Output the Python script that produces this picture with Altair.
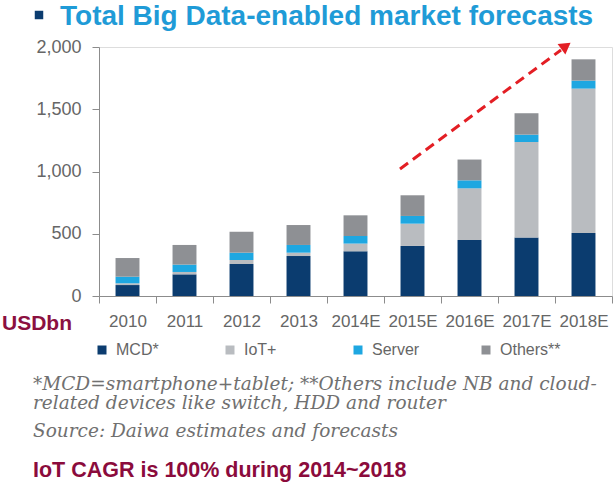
import altair as alt
import pandas as pd

years = ["2010", "2011", "2012", "2013", "2014E", "2015E", "2016E", "2017E", "2018E"]
series = ["MCD*", "IoT+", "Server", "Others**"]
mcd = [88, 174, 257, 321, 359, 402, 450, 469, 506]
iot = [14, 19, 32, 27, 62, 179, 415, 768, 1160]
server = [53, 59, 59, 62, 61, 62, 64, 59, 64]
others = [150, 158, 168, 160, 166, 166, 167, 172, 171]
colors = ["#0b3c6f", "#b9bcc0", "#1ea7e1", "#8e9094"]
y_ticks = [0, 500, 1000, 1500, 2000]

title_text = "Total Big Data-enabled market forecasts"
unit_text = "USDbn"
note1 = "*MCD=smartphone+tablet; **Others include NB and cloud-"
note2 = "related devices like switch, HDD and router"
source_text = "Source: Daiwa estimates and forecasts"
cagr_text = "IoT CAGR is 100% during 2014~2018"

rows = []
for vals, name in zip([mcd, iot, server, others], series):
    for yr, v in zip(years, vals):
        rows.append({"year": yr, "series": name, "value": v, "order": series.index(name)})
df = pd.DataFrame(rows)

SANS = "Liberation Sans, Arial, sans-serif"
SERIF = "DejaVu Serif, Georgia, serif"
GRAY = "#666666"

bars = alt.Chart(df).mark_bar(width=alt.RelativeBandSize(0.42)).encode(
    x=alt.X("year:N", sort=years, title=None,
            scale=alt.Scale(paddingInner=0, paddingOuter=0),
            axis=alt.Axis(labelAngle=0, tickBand="extent", tickSize=7, labelPadding=10,
                          labelFont=SANS, labelFontSize=17, labelColor=GRAY,
                          domainColor="#8c8c8c", tickColor="#8c8c8c", grid=False)),
    y=alt.Y("value:Q", stack="zero", title=None,
            scale=alt.Scale(domain=[0, 2000], nice=False),
            axis=alt.Axis(values=y_ticks, format=",d", tickSize=7, labelPadding=11,
                          labelFont=SANS, labelFontSize=18, labelColor=GRAY,
                          domainColor="#8c8c8c", tickColor="#8c8c8c", grid=False)),
    color=alt.Color("series:N", scale=alt.Scale(domain=series, range=colors),
                    legend=alt.Legend(title=None, orient="none", legendX=-5, legendY=295,
                                      direction="horizontal", columns=4, gridAlign="all",
                                      columnPadding=45, symbolType="square", symbolSize=81,
                                      symbolStrokeWidth=0, symbolOpacity=1, labelOffset=6,
                                      labelFont=SANS, labelFontSize=16, labelColor=GRAY)),
    order=alt.Order("order:Q", sort="ascending"),
)


def text_layer(txt, x, y, size, color, font, weight="normal", style="normal"):
    return alt.Chart(pd.DataFrame({"t": [txt]})).mark_text(
        align="left", baseline="alphabetic", fontSize=size, color=color,
        font=font, fontWeight=weight, fontStyle=style
    ).encode(text="t:N", x=alt.value(x), y=alt.value(y))


title = text_layer(title_text, -39, -22, 28, "#1f9bd7", SANS, weight="bold")
square = alt.Chart(pd.DataFrame({"t": [0]})).mark_square(
    size=72, color="#0b3c6f", opacity=1).encode(x=alt.value(-60), y=alt.value(-32))
unit = text_layer(unit_text, -97, 283, 21, "#8b1040", SANS, weight="bold")
n1 = text_layer(note1, -66, 343, 18.5, "#707070", SERIF, style="italic")
n2 = text_layer(note2, -66, 362, 18.5, "#707070", SERIF, style="italic")
src = text_layer(source_text, -66, 390, 18.5, "#707070", SERIF, style="italic")
cagr = text_layer(cagr_text, -66, 430, 21.5, "#8b0b3c", SANS, weight="bold")

arrow_line = alt.Chart(pd.DataFrame({"t": [0]})).mark_rule(
    color="#e31e24", strokeWidth=3, strokeDash=[10, 6]).encode(
    x=alt.value(301), y=alt.value(122), x2=alt.value(462), y2=alt.value(3))
arrow_head = alt.Chart(pd.DataFrame({"t": [0]})).mark_point(
    shape="triangle-up", angle=53.5, size=170, filled=True, color="#e31e24", opacity=1).encode(
    x=alt.value(467), y=alt.value(-1))

chart = alt.layer(bars, arrow_line, arrow_head, title, square, unit, n1, n2, src, cagr).properties(
    width=513, height=249,
    autosize=alt.AutoSizeParams(type="none"),
    padding={"left": 99, "top": 47, "right": 3, "bottom": 200},
).configure_view(stroke=None).configure(background="white")

chart.save("out.html", embed_options={"renderer": "svg", "actions": False})
